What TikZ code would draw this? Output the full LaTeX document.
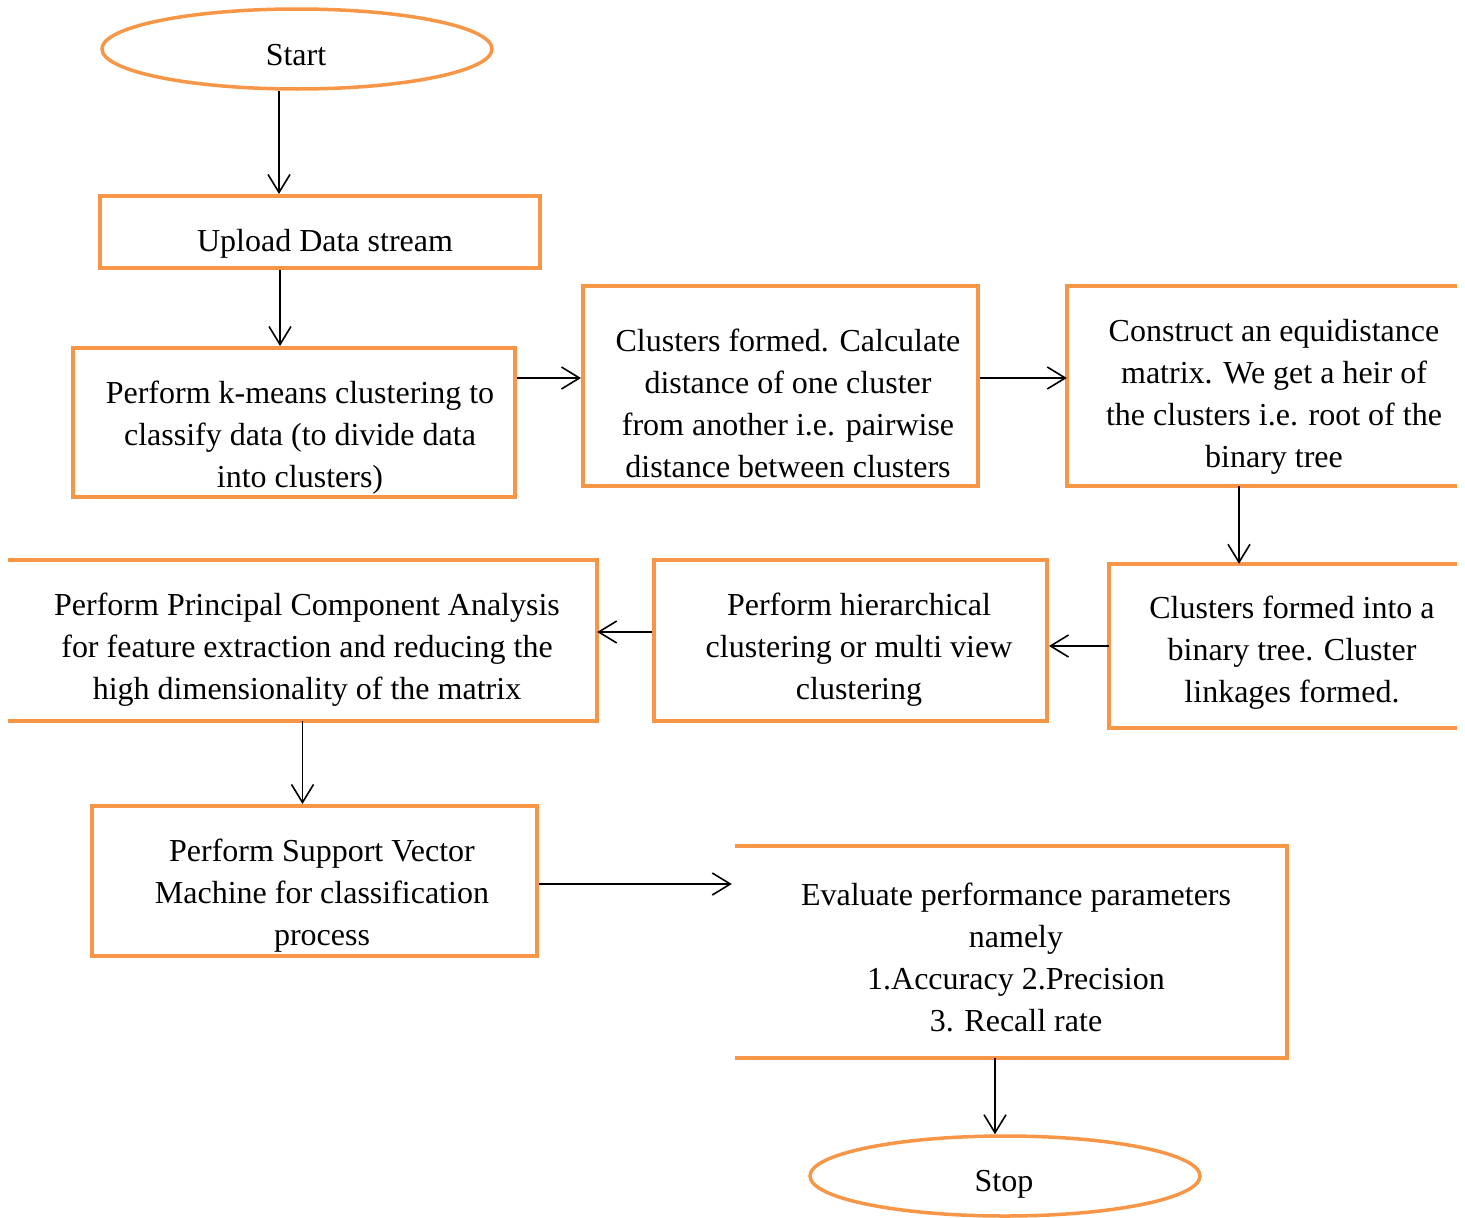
\documentclass[tikz,border=0pt]{standalone}
\usepackage{fontspec}
\setmainfont{Liberation Serif}
\usetikzlibrary{shapes.geometric,arrows.meta}
\definecolor{boxorange}{HTML}{F79646}
\begin{document}
\begin{tikzpicture}[x=1pt,y=-1pt,
  box/.style={rectangle,draw=boxorange,line width=4pt,inner sep=0pt},
  openbox/.style={rectangle,inner sep=0pt},
  oval/.style={ellipse,draw=boxorange,line width=3.5pt,inner sep=0pt,minimum width=390pt,minimum height=80pt},
  edge/.style={draw=boxorange,line width=4pt},
  txt/.style={align=center,font=\fontsize{32}{42}\selectfont,inner sep=0pt},
  arr/.style={-{Straight Barb[length=18pt,width=22pt]},line width=1.6pt,black}]
\useasboundingbox (0,0) rectangle (1465,1218);

% nodes
\node[oval] (start) at (297,49) {};
\node[txt] (tstart) at (296,55) {Start};

\node[box,minimum width=440pt,minimum height=72pt] (upload) at (320,232) {};
\node[txt] (tupload) at (325,244) {Upload Data stream};

\node[box,minimum width=442pt,minimum height=149pt] (kmeans) at (294,422.5) {};
\node[txt] (tkmeans) at (300,438) {Perform k-means clustering to\\classify data (to divide data\\into clusters)};

\node[box,minimum width=395pt,minimum height=200pt] (clusters) at (780.5,386) {};
\node[txt] (tclusters) at (788,403) {Clusters formed. Calculate\\distance of one cluster\\from another i.e. pairwise\\distance between clusters};

\node[openbox,minimum width=390pt,minimum height=200pt] (construct) at (1262,386) {};
\draw[edge] (construct.north east) -- (construct.north west) -- (construct.south west) -- (construct.south east);
\node[txt] (tconstruct) at (1274,397) {Construct an equidistance\\matrix. We get a heir of\\the clusters i.e. root of the\\binary tree};

\node[openbox,minimum width=348pt,minimum height=164pt] (binary) at (1283,646) {};
\draw[edge] (binary.north east) -- (binary.north west) -- (binary.south west) -- (binary.south east);
\node[txt] (tbinary) at (1292,653) {Clusters formed into a\\binary tree. Cluster\\linkages formed.};

\node[box,minimum width=393pt,minimum height=161pt] (hier) at (850.5,640.5) {};
\node[txt] (thier) at (859,650) {Perform hierarchical\\clustering or multi view\\clustering};

\node[openbox,minimum width=589pt,minimum height=161pt] (pca) at (302.5,640.5) {};
\draw[edge] (pca.north west) -- (pca.north east) -- (pca.south east) -- (pca.south west);
\node[txt] (tpca) at (307,650) {Perform Principal Component Analysis\\for feature extraction and reducing the\\high dimensionality of the matrix};

\node[box,minimum width=445pt,minimum height=150pt] (svm) at (314.5,881) {};
\node[txt] (tsvm) at (322,896) {Perform Support Vector\\Machine for classification\\process};

\node[openbox,minimum width=552pt,minimum height=212pt] (eval) at (1011,952) {};
\draw[edge] (eval.north west) -- (eval.north east) -- (eval.south east) -- (eval.south west);
\node[txt] (teval) at (1016,957) {Evaluate performance parameters\\namely\\1.Accuracy 2.Precision\\3. Recall rate};

\node[oval] (stop) at (1005,1176) {};
\node[txt] (tstop) at (1004,1184) {Stop};

% connectors
\draw[arr] ([xshift=-18pt]start.south) coordinate (a1) -- (a1 |- upload.north);
\draw[arr] ([xshift=-40pt]upload.south) coordinate (a2) -- (a2 |- kmeans.north);
\draw[arr] ([yshift=44.5pt]kmeans.east) coordinate (a3) -- (a3 -| clusters.west);
\draw[arr] ([yshift=8pt]clusters.east) coordinate (a4) -- (a4 -| construct.west);
\draw[arr] ([xshift=-23pt]construct.south) coordinate (a5) -- (a5 |- binary.north);
\draw[arr] (binary.west) -- (binary.west -| hier.east);
\draw[arr] ([yshift=8.5pt]hier.west) coordinate (a7) -- (a7 -| pca.east);
\draw[arr] (pca.south) -- (pca.south |- svm.north);
\draw[arr] ([yshift=-3pt]svm.east) coordinate (a9) -- ([xshift=-3pt]a9 -| eval.west);
\draw[arr] ([xshift=-16pt]eval.south) coordinate (a10) -- (a10 |- stop.north);
\end{tikzpicture}
\end{document}
